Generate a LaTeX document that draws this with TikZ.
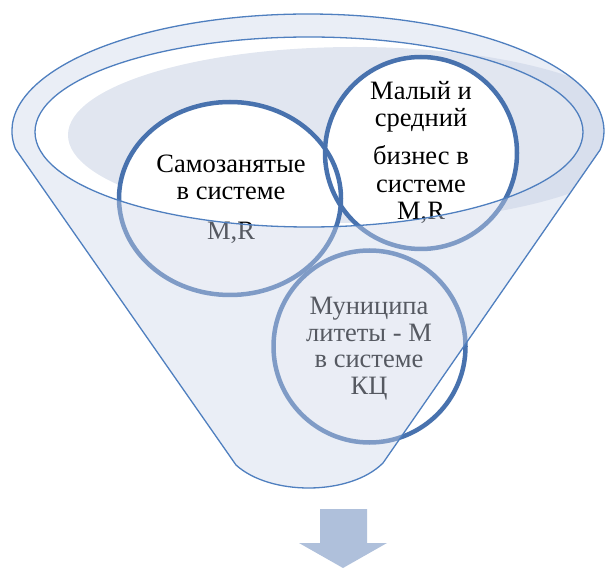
\documentclass[tikz,border=0pt]{standalone}
\usepackage{fontspec}
\setmainfont{Liberation Serif}
\definecolor{rim}{HTML}{4F7FBF}
\definecolor{ringc}{HTML}{4872AE}
\definecolor{shadec}{HTML}{E1E6F0}
\definecolor{veil}{HTML}{CDD6E9}
\definecolor{arrowc}{HTML}{AFC0DB}
\def\funnelpath{(15.5,419) arc[start angle=188.85, end angle=-9.3, x radius=296, y radius=117] -- (383,105) .. controls (350,72) and (270,72) .. (236,103) -- cycle}
\begin{document}
\begin{tikzpicture}[x=1pt,y=1pt,
  lbl/.style={font=\fontsize{26.5}{30}\selectfont, anchor=base, inner sep=0pt},
  circline/.style={draw=ringc, line width=4.5pt},
  rimline/.style={draw=rim, line width=1.3pt}]
\useasboundingbox (0,0) rectangle (605,568);
% back shading inside the funnel
\begin{scope}
  \clip \funnelpath;
  \fill[shadec] (355,433) ellipse [x radius=287, y radius=88];
\end{scope}
% circle fills
\fill[white] (230,369.5) ellipse [x radius=111, y radius=96.5];
\fill[white] (421,415) circle [radius=96];
\fill[white] (369.5,221.5) circle [radius=96];
% circle outlines
\path[circline] (230,369.5) ellipse [x radius=111, y radius=96.5];
\path[circline] (421,415) circle [radius=96];
\path[circline] (369.5,221.5) circle [radius=96];
% texts
\node[lbl] (a1) at (231,395) {Самозанятые};
\node[lbl] (a2) at (231,368) {в системе};
\node[lbl] (a3) at (231,328) {M,R};
\node[lbl] (b1) at (421,468) {Малый и};
\node[lbl] (b2) at (421,441) {средний};
\node[lbl] (b3) at (421,403) {бизнес в};
\node[lbl] (b4) at (421,375) {системе};
\node[lbl] (b5) at (421,348) {M,R};
\node[lbl] (c1) at (369,253) {Муниципа};
\node[lbl] (c2) at (369,226) {литеты - М};
\node[lbl] (c3) at (369,200) {в системе};
\node[lbl] (c4) at (369,173) {КЦ};
% front veil of funnel (everything except the opening)
\fill[veil, fill opacity=0.42, even odd rule] \funnelpath (309,436) ellipse [x radius=274, y radius=95];
% outlines
\path[rimline] \funnelpath;
\path[rimline] (309,436) ellipse [x radius=274, y radius=95];
% arrow
\fill[arrowc] (320,59) -- (367,59) -- (367,25) -- (387,25) -- (343,0) -- (299,25) -- (320,25) -- cycle;
\end{tikzpicture}
\end{document}
